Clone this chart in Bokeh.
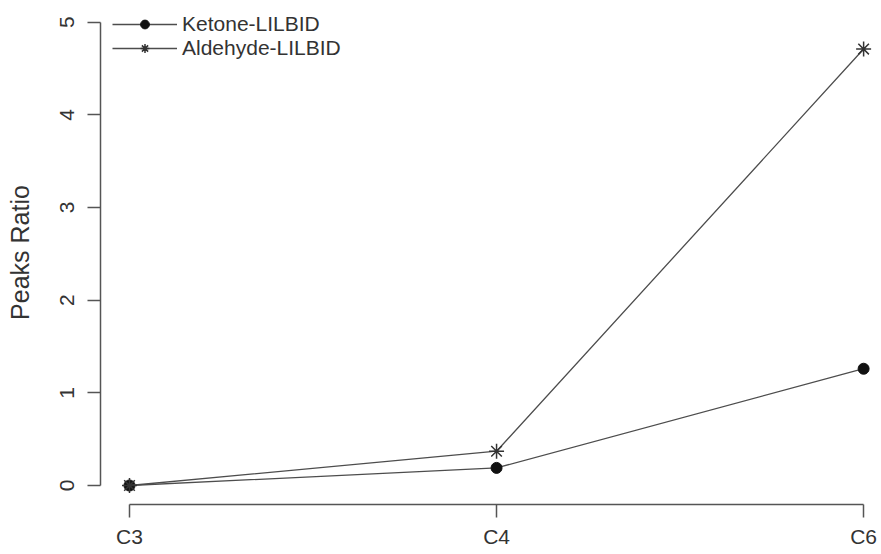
from bokeh.plotting import figure
from bokeh.models import Range1d, Legend, LegendItem, FixedTicker
from bokeh.embed import file_html
from bokeh.resources import INLINE

categories = ["C3", "C4", "C6"]
ketone = [0.0, 0.19, 1.26]
aldehyde = [0.0, 0.37, 4.71]
y_ticks = [0, 1, 2, 3, 4, 5]

xs = list(range(1, len(categories) + 1))

FONT = "Liberation Sans"
TXT = "#333333"
AX = "#555555"

p = figure(width=880, height=554, output_backend="svg", toolbar_location=None,
           x_range=Range1d(0.921, 3.046), y_range=Range1d(-0.205, 5.234),
           min_border_left=100, min_border_right=0, min_border_top=0, min_border_bottom=50)
p.outline_line_color = None
p.xgrid.visible = False
p.ygrid.visible = False
p.background_fill_color = "white"
p.border_fill_color = "white"

l1 = p.line(xs, ketone, line_color="#4d4d4d", line_width=1.3)
m1 = p.scatter(xs, ketone, marker="circle", size=11, fill_color="#111111", line_color="#111111")
l2 = p.line(xs, aldehyde, line_color="#4d4d4d", line_width=1.3)
m2 = p.scatter(xs, aldehyde, marker="asterisk", size=15, line_color="#333333", line_width=1.5)

p.xaxis.ticker = FixedTicker(ticks=xs)
p.xaxis.major_label_overrides = {x: c for x, c in zip(xs, categories)}
p.xaxis.bounds = (1, 3)
p.yaxis.ticker = FixedTicker(ticks=y_ticks)
p.yaxis.bounds = (0, 5)
p.yaxis.axis_label = "Peaks Ratio"
p.yaxis.major_label_orientation = "vertical"

for ax in (p.xaxis, p.yaxis):
    ax.axis_line_color = AX
    ax.axis_line_width = 1.5
    ax.major_tick_line_color = AX
    ax.major_tick_line_width = 1.5
    ax.major_tick_out = 13
    ax.major_tick_in = 0
    ax.minor_tick_line_color = None
    ax.major_label_text_font = FONT
    ax.major_label_text_font_size = "21px"
    ax.major_label_text_color = TXT
    ax.axis_label_text_font = FONT
    ax.axis_label_text_font_size = "25px"
    ax.axis_label_text_font_style = "normal"
    ax.axis_label_text_color = TXT
p.xaxis.major_label_standoff = 7
p.yaxis.major_label_standoff = 13
p.yaxis.axis_label_standoff = 24

legend = Legend(items=[LegendItem(label="Ketone-LILBID", renderers=[l1, m1]),
                       LegendItem(label="Aldehyde-LILBID", renderers=[l2, m2])],
                location="top_left")
legend.border_line_color = None
legend.background_fill_alpha = 0
legend.margin = 12
legend.padding = 0
legend.glyph_width = 65
legend.glyph_height = 22
legend.label_height = 22
legend.spacing = 0
legend.label_standoff = 5
legend.label_text_font = FONT
legend.label_text_font_size = "21px"
legend.label_text_color = TXT
p.add_layout(legend, "center")

open("out.html", "w").write(file_html(p, INLINE))
